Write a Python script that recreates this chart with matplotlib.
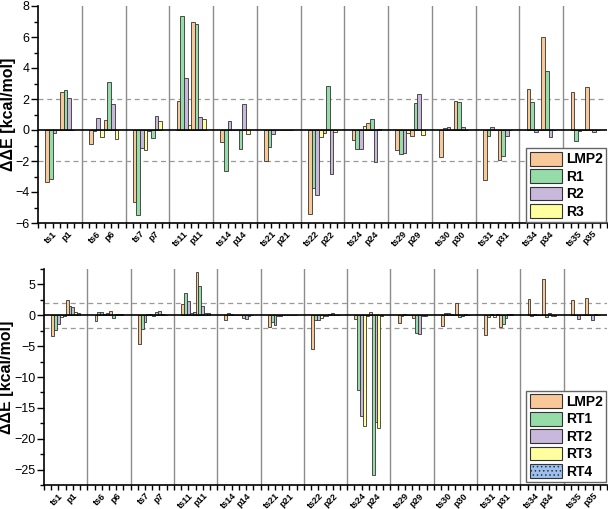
import matplotlib
matplotlib.use("Agg")
import matplotlib.pyplot as plt
import numpy as np
from matplotlib.patches import Patch

plt.rcParams['font.family'] = ['Liberation Sans', 'DejaVu Sans']
plt.rcParams['hatch.linewidth'] = 0.6

systems = ["1", "6", "7", "11", "14", "21", "22", "24", "29", "30", "31", "34", "35"]
# order per system: ts, p
tick_labels = []
for s in systems:
    tick_labels += ["ts" + s, "p" + s]

# ---- top panel values (ts1, p1, ts6, p6, ...)
top_LMP2 = [-3.33, 2.43, -0.92, 0.62, -4.66, -0.08, 1.89, 6.94, -0.75, 0.03, -2.0, 0.0,
            -5.43, -0.21, -0.67, 0.45, -1.31, -0.41, -1.76, 1.87, -3.24, -1.95, 2.66, 5.99, 2.43, 2.79]
top_R1 = [-3.18, 2.58, -0.04, 3.09, -5.48, -0.49, 7.37, 6.87, -2.62, -1.25, -1.1, 0.0,
          -3.71, 2.86, -1.22, 0.69, -1.57, 1.72, 0.15, 1.83, -0.41, -1.7, 1.78, 3.8, -0.71, 0.02]
top_R2 = [-0.22, 2.08, 0.75, 1.65, -1.14, 0.9, 3.33, 0.82, 0.6, 1.7, -0.28, 0.0,
          -4.19, -2.83, -1.22, -2.04, -1.46, 2.3, 0.19, 0.17, 0.17, -0.39, -0.15, -0.45, -0.04, -0.15]
top_R3 = [-0.03, 0.0, -0.43, -0.6, -1.29, 0.58, 0.32, 0.71, 0.02, -0.26, -0.03, 0.0,
          -0.45, -0.1, 0.26, 0.05, -0.17, -0.3, 0.0, 0.02, 0.0, 0.0, 0.0, 0.0, 0.0, 0.0]

# ---- bottom panel values
bot_LMP2 = [-3.3, 2.49, -0.92, 0.7, -4.65, -0.1, 1.9, 6.98, -0.7, 0.0, -1.95, 0.0,
            -5.41, -0.1, -0.6, 0.54, -1.24, -0.43, -1.73, 1.95, -3.19, -1.89, 2.7, 5.95, 2.43, 2.81]
bot_RT1 = [-2.33, 1.46, 0.54, -0.49, -2.2, 0.6, 3.68, 4.82, 0.43, -0.49, -1.14, 0.0,
           -0.76, 0.22, -12.18, -25.9, -0.1, -2.87, 0.32, -0.32, -0.32, -1.41, -0.1, -0.32, 0.05, 0.1]
bot_RT2 = [-1.35, 1.3, 0.54, 0.22, -1.03, 0.76, 2.27, 1.57, 0.16, -0.54, -1.52, 0.0,
           -0.76, 0.38, -16.29, -17.3, 0.16, -3.03, 0.32, -0.1, 0.16, -0.43, 0.22, 0.32, -0.6, -0.81]
bot_RT3 = [-0.3, 0.6, 0.16, 0.2, 0.2, 0.15, 0.38, 0.38, 0.1, -0.1, -0.16, 0.0,
           -0.38, 0.1, -17.97, -18.3, 0.1, -0.16, 0.2, 0.22, -0.32, 0.2, 0.1, -0.1, 0.0, 0.16]
bot_RT4 = [-0.15, 0.38, 0.3, 0.25, 0.27, 0.1, 0.6, 0.38, 0.05, 0.1, -0.1, 0.0,
           -0.16, 0.0, -0.16, -0.1, 0.05, -0.1, 0.1, 0.1, 0.16, 0.2, 0.0, -0.1, 0.0, 0.1]

top_names = ["LMP2", "R1", "R2", "R3"]
bot_names = ["LMP2", "RT1", "RT2", "RT3", "RT4"]
colors = {"LMP2": "#F8C898", "R1": "#96DCA8", "R2": "#C8B8DC", "R3": "#FFFFA0",
          "RT1": "#96DCA8", "RT2": "#C8B8DC", "RT3": "#FFFFA0", "RT4": "#9CC0F0"}

# category positions: ts at 6k+2, p at 6k+4
pos = []
for k in range(len(systems)):
    pos += [6 * k + 2, 6 * k + 4]
pos = np.array(pos, dtype=float)

fig = plt.figure(figsize=(6.08, 5.09), dpi=100)
W, H = 608, 509
ax1 = fig.add_axes([38 / W, 1 - 223 / H, (607 - 38) / W, (223 - 6) / H])
ax2 = fig.add_axes([44 / W, 1 - 485 / H, (607 - 44) / W, (485 - 269) / H])


def draw(ax, names, series, ylim, major, minor, legend_box, left_px, label_x_px):
    n = len(names)
    w = 2.0 / n
    handles = []
    for i, (nm, vals) in enumerate(zip(names, series)):
        off = (i - (n - 1) / 2) * w
        hatch = "...." if nm == "RT4" else None
        ax.bar(pos + off, vals, width=w, color=colors[nm], edgecolor="#333333",
               linewidth=0.6, hatch=hatch, zorder=3)
        handles.append(Patch(facecolor=colors[nm], edgecolor="#333333", linewidth=0.8,
                             hatch=hatch, label=nm))
    ax.set_xlim(0, 6 * len(systems))
    ax.set_ylim(*ylim)
    for k in range(1, len(systems)):
        ax.axvline(6 * k, color="#8c8c8c", lw=1.0, zorder=1)
    ax.axhline(0, color="black", lw=1.2, zorder=4)
    for yv in (2, -2):
        ax.axhline(yv, color="#999999", lw=0.9, ls=(0, (4, 3)), zorder=1)
    ax.spines["top"].set_visible(False)
    ax.spines["right"].set_visible(False)
    ax.spines["left"].set_linewidth(1.2)
    ax.spines["bottom"].set_linewidth(1.2)
    ax.set_yticks(np.arange(major[0], major[1] + 0.01, major[2]))
    ax.set_yticks(np.arange(ylim[0], ylim[1] + 0.01, minor), minor=True)
    ax.set_xticks(pos)
    ax.set_xticklabels(tick_labels, rotation=45, ha="right", fontsize=6.5,
                       fontweight="bold", rotation_mode="anchor")
    minor_x = [x for x in range(0, 6 * len(systems) + 1) if x not in pos]
    ax.set_xticks(minor_x, minor=True)
    ax.tick_params(axis="x", which="both", direction="out", length=3.5, width=1, pad=1)
    ax.tick_params(axis="y", which="major", direction="out", length=5, width=1,
                   labelsize=9, pad=1)
    ax.tick_params(axis="y", which="minor", direction="out", length=3, width=1)
    ax.set_ylabel("ΔΔE [kcal/mol]", fontsize=11.5, fontweight="bold")
    axw = ax.get_position().width * W
    ax.yaxis.set_label_coords((label_x_px - left_px) / axw, 0.5)
    leg = ax.legend(handles=handles, loc="lower right", bbox_to_anchor=legend_box,
                    bbox_transform=fig.transFigure,
                    prop={"weight": "bold", "size": 10}, handlelength=2.3,
                    handleheight=1.15, handletextpad=0.3, labelspacing=0.2,
                    borderpad=0.25, borderaxespad=0, fancybox=False, framealpha=1,
                    edgecolor="#666666")
    leg.get_frame().set_linewidth(1.0)
    leg.set_zorder(10)


draw(ax1, top_names, [top_LMP2, top_R1, top_R2, top_R3], (-6, 8), (-6, 8, 2), 1,
     (606 / W, 1 - 222 / H), 38, 16)
draw(ax2, bot_names, [bot_LMP2, bot_RT1, bot_RT2, bot_RT3, bot_RT4], (-27.5, 7.5),
     (-25, 5, 5), 2.5, (606 / W, 1 - 482 / H), 44, 14.5)

fig.savefig("out.png", dpi=100)
